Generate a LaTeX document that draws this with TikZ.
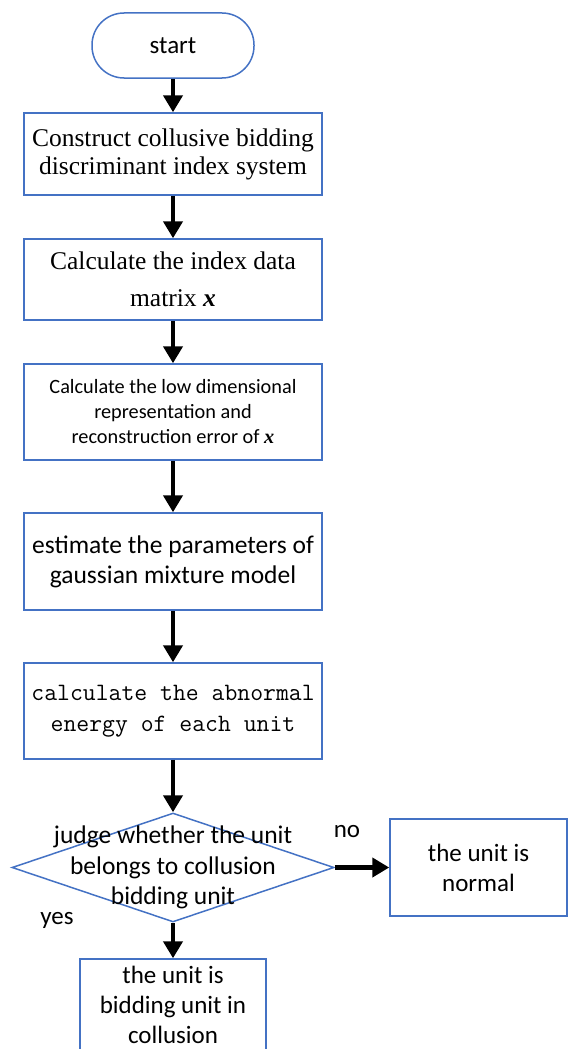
\documentclass[tikz,border=0pt]{standalone}
\usepackage{fontspec}
\setmainfont{Carlito}
\newfontfamily\timesfont{Liberation Serif}
\usetikzlibrary{arrows.meta,shapes.geometric}
\definecolor{boxblue}{HTML}{4472C4}
\tikzset{
  proc/.style={draw=boxblue, line width=1.5pt, minimum width=298pt, inner sep=0pt, align=center},
  flow/.style={line width=4.5pt, -{Triangle[length=17pt,width=19pt]}},
  lbl/.style={font=\fontsize{25}{30}\selectfont, inner sep=0pt}
}

\begin{document}
\begin{tikzpicture}[x=1pt,y=-1pt]
\useasboundingbox (0,0) rectangle (568,1049);

\node[draw=boxblue, line width=1.5pt, rounded corners=32pt, minimum width=162pt, minimum height=65pt, inner sep=0pt, font=\fontsize{25}{30}\selectfont] (start) at (173,45.5) {start};
\node[proc, minimum height=82pt, font=\timesfont\fontsize{25.5}{28}\selectfont] (construct) at (173,154) {Construct collusive bidding\\discriminant index system};
\node[proc, minimum height=81pt, font=\timesfont\fontsize{25.5}{37}\selectfont] (matrix) at (173,279.5) {Calculate the index data\\matrix \textbf{\textit{x}}};
\node[proc, minimum height=96pt, font=\fontsize{20.3}{25}\selectfont] (lowdim) at (173,412) {Calculate the low dimensional\\representation and\\reconstruction error of {\timesfont\textbf{\textit{x}}}};
\node[proc, minimum height=97pt, font=\fontsize{25.5}{30}\selectfont] (gmm) at (173,561.5) {estimate the parameters of\\gaussian mixture model};
\node[proc, minimum height=96pt, font=\ttfamily\fontsize{25}{31}\selectfont] (energy) at (173,711) {calculate the abnormal\\energy of each unit};

\node[diamond, draw=boxblue, line width=1.5pt, inner sep=0pt, minimum width=322pt, minimum height=109pt] (judge) at (173,867.5) {};
\node[align=center, font=\fontsize{25.5}{30.5}\selectfont, inner sep=0pt] (judgetext) at (judge) {judge whether the unit\\belongs to collusion\\bidding unit};

\node[proc, minimum width=177pt, minimum height=97pt, font=\fontsize{25}{30}\selectfont] (normal) at (478.5,867.5) {the unit is\\normal};
\node[proc, minimum width=186pt, minimum height=92pt, font=\fontsize{25}{30}\selectfont] (collusion) at (173,1005) {the unit is\\bidding unit in\\collusion};

\node[lbl] (nolbl) at (347,832) {no};
\node[lbl] (yeslbl) at (57,920) {yes};

\draw[flow] (start) -- (construct);
\draw[flow] (construct) -- (matrix);
\draw[flow] (matrix) -- (lowdim);
\draw[flow] (lowdim) -- (gmm);
\draw[flow] (gmm) -- (energy);
\draw[flow] (energy) -- (judge);
\draw[flow] (judge.east) -- (normal.west);
\draw[flow] (judge.south) -- (collusion.north);

\end{tikzpicture}
\end{document}
